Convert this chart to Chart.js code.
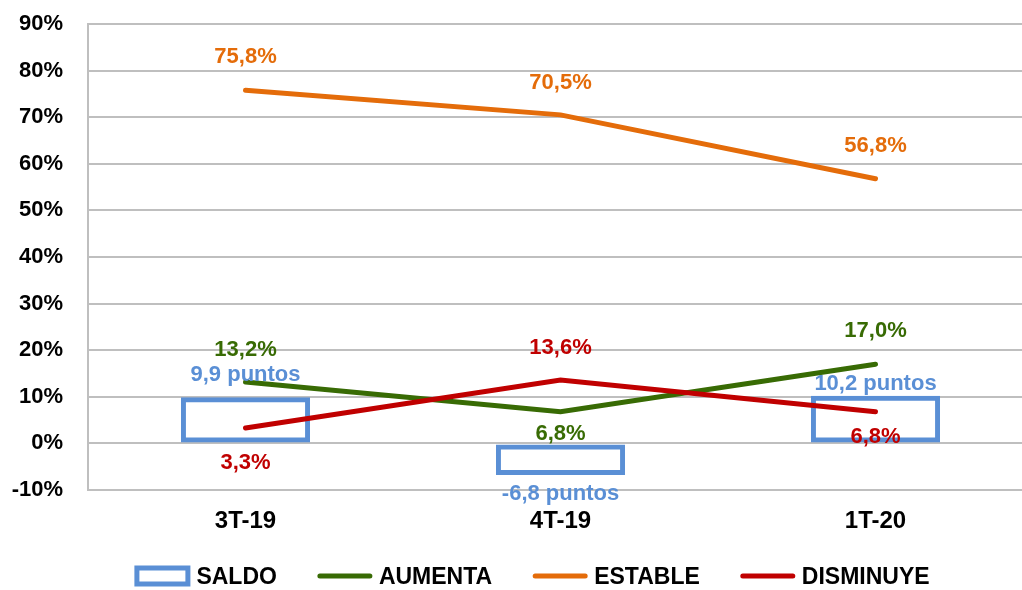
<!DOCTYPE html>
<html>
<head>
<meta charset="utf-8">
<script src="https://cdn.jsdelivr.net/npm/chart.js@4"></script>
<style>
    html, body { margin:0; padding:0; background:#fff; overflow:hidden; }
    #wrap { position:relative; width:1040px; height:590px; }
</style>
</head>
<body>
<div id="wrap"><canvas id="graph0"></canvas></div>
<script>

// datos del grafico
var CATEGORIES  = ["3T-19", "4T-19", "1T-20"];
var SALDO       = [9.9, -6.8, 10.2];
var AUMENTA     = [13.2, 6.8, 17.0];
var ESTABLE     = [75.8, 70.5, 56.8];
var DISMINUYE   = [3.3, 13.6, 6.8];

var FONT        = "'Liberation Sans', Arial, sans-serif";

var BLUE    = "#5a8fd5";
var GREEN   = "#386b04";
var ORANGE  = "#e46c0a";
var RED     = "#c00000";

//etiquetas: desplazamiento vertical (px) desde el punto, negativo = arriba
var LABEL_OFFSET = {
    "SALDO":     [-22, 19, -12],
    "AUMENTA":   [-32, 22, -33],
    "ESTABLE":   [-33, -32, -33],
    "DISMINUYE": [35, -32, 25]
};

function fmt(v){
    return v.toFixed(1).replace(".", ",");
}

//dibuja los valores encima/debajo de cada punto
var labelPlugin = {
    id: "labels",
    afterDatasetsDraw: function(chart){
        let ctx = chart.ctx;
        ctx.save();
        ctx.font = "bold 22px " + FONT;
        ctx.textAlign = "center";
        ctx.textBaseline = "middle";
        chart.data.datasets.forEach(function(ds, di){
            let meta = chart.getDatasetMeta(di);
            meta.data.forEach(function(el, i){
                let v = ds.data[i];
                let off = LABEL_OFFSET[ds.label][i];
                let y;
                if (ds.type === "bar"){
                    let top = Math.min(el.y, el.base);
                    let bot = Math.max(el.y, el.base);
                    y = off < 0 ? top + off : bot + off;
                }
                else{
                    y = el.y + off;
                }
                let txt = ds.type === "bar" ? fmt(v) + " puntos" : fmt(v) + "%";
                ctx.fillStyle = ds.labelColor;
                ctx.fillText(txt, el.x, y);
            });
        });
        ctx.restore();
    }
};

//leyenda dibujada a mano
var legendPlugin = {
    id: "mylegend",
    afterDraw: function(chart){
        let ctx = chart.ctx;
        ctx.save();
        ctx.font = "bold 23px " + FONT;
        ctx.textBaseline = "middle";
        let symW = 56, gapT = 6, gapI = 40;
        let items = chart.data.datasets;
        let total = 0;
        items.forEach(function(ds){ total += symW + gapT + ctx.measureText(ds.label).width; });
        total += gapI * (items.length - 1);
        let x = 532 - total / 2;
        let cy = 576;
        items.forEach(function(ds){
            if (ds.type === "bar"){
                ctx.strokeStyle = ds.borderColor;
                ctx.lineWidth = 5;
                ctx.strokeRect(x + 2.5, cy - 8, symW - 5, 16);
            }
            else{
                ctx.strokeStyle = ds.borderColor;
                ctx.lineWidth = 5;
                ctx.lineCap = "round";
                ctx.beginPath();
                ctx.moveTo(x + 3, cy);
                ctx.lineTo(x + symW - 3, cy);
                ctx.stroke();
            }
            ctx.fillStyle = "#000";
            ctx.fillText(ds.label, x + symW + gapT, cy + 2);
            x += symW + gapT + ctx.measureText(ds.label).width + gapI;
        });
        ctx.restore();
    }
};

window.addEventListener("load", function(){

    let ctx0 = document.getElementById("graph0");

    new Chart(ctx0, {
        type: "bar",
        data: {
            labels: CATEGORIES,
            datasets: [
                {
                    label: "SALDO",
                    type: "bar",
                    data: SALDO,
                    backgroundColor: "rgba(0,0,0,0)",
                    borderColor: BLUE,
                    labelColor: BLUE,
                    borderWidth: 5,
                    borderSkipped: false,
                    barPercentage: 0.41,
                    categoryPercentage: 1,
                    order: 4
                },
                {
                    label: "AUMENTA",
                    type: "line",
                    data: AUMENTA,
                    borderColor: GREEN,
                    labelColor: GREEN,
                    borderWidth: 5,
                    borderCapStyle: "round",
                    pointRadius: 0,
                    tension: 0,
                    order: 3
                },
                {
                    label: "ESTABLE",
                    type: "line",
                    data: ESTABLE,
                    borderColor: ORANGE,
                    labelColor: ORANGE,
                    borderWidth: 5,
                    borderCapStyle: "round",
                    pointRadius: 0,
                    tension: 0,
                    order: 2
                },
                {
                    label: "DISMINUYE",
                    type: "line",
                    data: DISMINUYE,
                    borderColor: RED,
                    labelColor: RED,
                    borderWidth: 5,
                    borderCapStyle: "round",
                    pointRadius: 0,
                    tension: 0,
                    order: 1
                }
            ]
        },
        options: {
            responsive: true,
            maintainAspectRatio: false,
            animation: false,
            layout: { padding: { top: 24, right: 7, left: 0, bottom: 0 } },
            plugins: {
                legend: { display: false },
                tooltip: { enabled: false }
            },
            scales: {
                x: {
                    offset: true,
                    grid: { display: false, drawTicks: false },
                    border: { display: false },
                    ticks: {
                        color: "#000",
                        font: { family: FONT, size: 24, weight: "bold" },
                        padding: 17
                    },
                    afterFit: function(s){ s.height = 100; }
                },
                y: {
                    min: -10,
                    max: 90,
                    grid: { color: "#bfbfbf", lineWidth: 2, drawTicks: false },
                    border: { display: true, color: "#bfbfbf", width: 2 },
                    ticks: {
                        stepSize: 10,
                        color: "#000",
                        padding: 25,
                        font: { family: FONT, size: 22, weight: "bold" },
                        callback: function(v){ return v + "%"; }
                    },
                    afterFit: function(s){ s.width = 88; s.paddingTop = 0; s.paddingBottom = 0; }
                }
            }
        },
        plugins: [labelPlugin, legendPlugin]
    });
});
</script>
</body>
</html>
